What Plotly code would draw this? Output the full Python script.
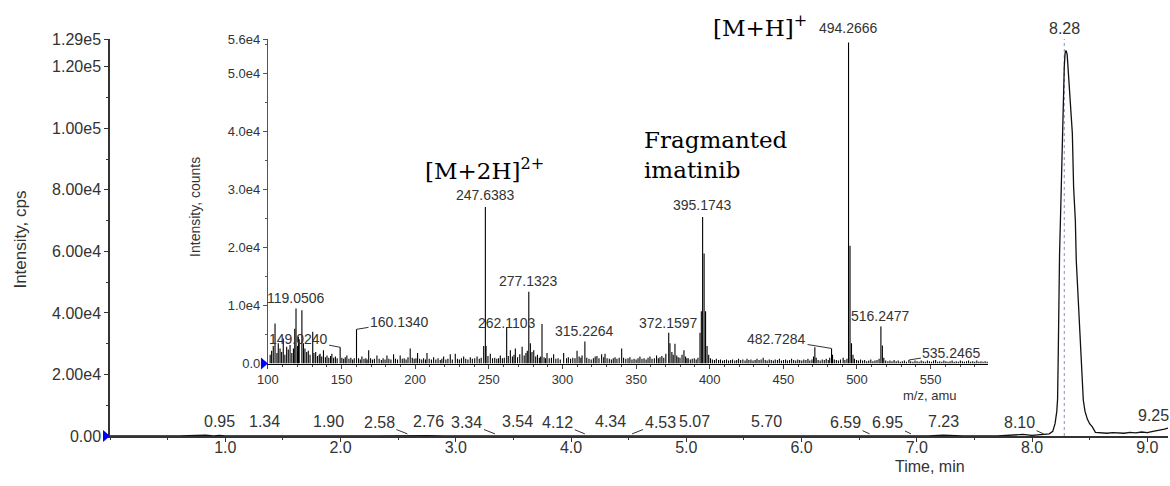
import plotly.graph_objects as go

# ---------------- TIC chromatogram (time in min, intensity in cps) ----------------
rt_min = [0.00, 0.30, 0.60, 0.83, 0.90, 0.95, 1.00, 1.20, 1.34, 1.40, 1.70, 1.90, 2.00,
          2.30, 2.58, 2.65, 2.76, 2.90, 3.20, 3.34, 3.45, 3.54, 3.70, 4.00, 4.12, 4.20,
          4.34, 4.45, 4.53, 4.70, 5.07, 5.20, 5.50, 5.70, 5.90, 6.30, 6.59, 6.75, 6.95,
          7.10, 7.23, 7.40, 7.70, 7.83, 7.92, 8.00, 8.05, 8.10, 8.15, 8.18, 8.20, 8.215,
          8.222, 8.228, 8.233, 8.239, 8.25, 8.259, 8.271, 8.28, 8.287, 8.295, 8.305, 8.32,
          8.332, 8.35, 8.361, 8.376, 8.384, 8.40, 8.416, 8.43, 8.445, 8.46, 8.48, 8.50,
          8.525, 8.55, 8.60, 8.65, 8.70, 8.75, 8.80, 8.85, 8.90, 8.95, 9.00, 9.05, 9.10,
          9.15, 9.18]
tic_cps = [0, 0, 0, 300, 0, 200, 0, 0, 150, 0, 0, 150, 0,
           0, 150, 0, 150, 0, 0, 150, 0, 150, 0, 0, 150, 0,
           150, 0, 150, 0, 150, 0, 0, 150, 0, 0, 150, 0, 150,
           0, 300, 0, 0, 400, 500, 200, 400, 600, 700, 1500, 4000, 8000,
           12000, 27000, 43000, 59000, 75000, 92000, 108000, 120000, 124300, 125300, 124000, 115500,
           108000, 98400, 80800, 70100, 57100, 45100, 34400, 24700, 11700, 8000, 5500, 4000,
           2900, 1200, 1000, 900, 1100, 1000, 900, 1200, 1000, 1300, 1100, 1500, 1800,
           2200, 2600]

# retention-time labels on the chromatogram
rt_label_times = [0.95, 1.34, 1.90, 2.58, 2.76, 3.34, 3.54, 4.12, 4.34, 4.53, 5.07,
                  5.70, 6.59, 6.95, 7.23, 8.10, 9.25]
apex_time = 8.28

# ---------------- TOF-MS spectrum (m/z, counts) ----------------
labelled_mz = [119.0506, 149.0240, 160.1340, 247.6383, 262.1103, 277.1323, 315.2264,
               372.1597, 395.1743, 482.7284, 494.2666, 516.2477, 535.2465]
labelled_counts = [9500, 2800, 5900, 27000, 6300, 12400, 3800,
                   5300, 25300, 2600, 55400, 6400, 600]

other_mz = [104.8, 107.0, 108.2, 110.4, 112.7, 115.0, 118.2, 120.7, 123.05, 130.4,
            286.1, 396.18, 397.18, 495.27]
other_counts = [6900, 3500, 2600, 4300, 2900, 3200, 6000, 4600, 9200, 5500,
                6800, 19000, 9000, 20300]

noise_mz = [101.5, 102.5, 103.6, 106.1, 109.3, 111.5, 113.8, 116.2, 117.3, 120.1, 121.2,
            124.1, 125.1, 126.3, 127.4, 128.6, 131.2, 132.4, 133.6, 134.8, 135.4, 136.5,
            137.7, 139.0, 140.1, 141.3, 142.5, 143.4, 144.6, 145.8, 147.0, 150.2, 151.4,
            152.5, 153.6, 155.0, 156.3, 157.5, 158.6, 161.5, 162.7, 163.8, 165.2, 166.5,
            167.3, 168.4, 169.7, 171.0, 172.3, 174.0, 175.5, 177.0, 178.2, 179.5, 180.8,
            182.1, 183.5, 185.3, 186.6, 188.0, 189.8, 191.2, 192.5, 193.8, 195.1, 196.6,
            198.0, 199.3, 200.5, 201.6, 203.0, 204.4, 205.7, 207.0, 208.0, 209.5, 211.0,
            212.5, 214.0, 215.5, 217.0, 218.1, 219.3, 220.8, 222.2, 223.8, 225.2, 227.2,
            228.7, 230.0, 231.4, 232.9, 234.3, 235.8, 237.4, 238.8, 240.4, 242.0, 243.5,
            244.8, 246.5, 248.1, 249.4, 251.0, 252.5, 254.0, 255.4, 256.6, 257.8, 259.2,
            260.5, 263.2, 264.6, 266.0, 267.1, 268.0, 269.5, 271.0, 272.6, 274.0, 275.2,
            276.1, 278.2, 279.3, 280.5, 281.8, 283.0, 284.3, 285.2, 287.5, 288.5, 289.5,
            291.0, 292.5, 294.0, 295.5, 297.0, 298.5, 300.8, 302.8, 304.0, 305.5, 307.0,
            308.5, 309.9, 311.3, 312.5, 313.3, 316.5, 318.0, 319.5, 321.0, 322.2, 323.4,
            324.8, 326.6, 328.0, 328.9, 330.3, 331.8, 333.2, 334.5, 335.7, 337.0, 338.5,
            340.2, 341.5, 343.0, 344.5, 345.8, 347.2, 348.6, 350.0, 351.3, 352.6, 354.0,
            355.4, 356.8, 358.1, 359.4, 360.8, 362.4, 363.9, 365.1, 366.2, 367.5, 368.8,
            370.2, 373.0, 374.3, 375.2, 376.4, 377.6, 378.6, 379.8, 381.2, 382.5, 383.6,
            384.5, 385.4, 386.8, 388.1, 389.5, 390.8, 392.0, 393.4, 394.3, 398.2, 399.3,
            400.5, 401.8, 403.2, 404.5, 406.0, 407.3, 408.7, 410.0, 411.4, 412.8, 414.2,
            415.5, 417.0, 418.3, 419.6, 421.0, 422.5, 424.0, 425.3, 426.6, 428.0, 429.4,
            430.8, 432.1, 433.5, 434.9, 436.3, 437.7, 439.0, 440.4, 441.8, 443.2, 444.5,
            446.0, 447.3, 448.7, 450.1, 451.5, 452.8, 454.2, 455.6, 457.0, 458.4, 459.8,
            461.1, 462.5, 463.9, 465.3, 466.7, 468.0, 469.4, 470.5, 471.4, 472.3, 473.6,
            475.0, 476.4, 477.8, 479.1, 480.5, 481.5, 483.4, 484.6, 486.0, 487.4, 488.8,
            490.6, 491.8, 493.2, 496.27, 497.3, 498.3, 499.7, 501.0, 502.4, 503.8, 505.2,
            506.6, 508.0, 509.4, 510.8, 512.2, 513.6, 515.0, 517.25, 518.2, 519.5, 521.0,
            522.4, 523.8, 525.2, 526.6, 528.0, 529.4, 530.8, 532.2, 533.6, 536.5, 538.0,
            539.4, 540.8, 542.2, 543.6, 545.0, 546.4, 547.8, 549.2, 550.6, 552.0, 553.4,
            554.8, 556.2, 557.6, 559.0, 560.4, 561.8, 563.2, 564.6, 566.0, 567.4, 568.8,
            570.2, 571.6, 573.0, 574.4, 575.8, 577.2, 578.6, 580.0, 581.4, 582.8, 584.2,
            585.6, 587.0, 588.4]
noise_counts = [1500, 2200, 3000, 1800, 2000, 1500, 2400, 1800, 2600, 3000, 4200,
                3500, 2600, 2000, 2200, 1500, 1800, 2000, 1300, 1500, 1700, 1200,
                2300, 1100, 1400, 1000, 1300, 1700, 1000, 1200, 900, 1000, 800,
                1100, 1400, 800, 1000, 700, 900, 900, 700, 1200, 800, 900,
                700, 2300, 900, 700, 800, 1400, 800, 600, 900, 700, 1400,
                800, 700, 1600, 800, 700, 1400, 800, 900, 700, 1100, 2600,
                1000, 800, 900, 1800, 800, 700, 900, 700, 1800, 800, 700,
                1100, 700, 900, 600, 800, 1200, 700, 800, 1600, 700, 1700,
                800, 700, 900, 1200, 800, 700, 1100, 800, 900, 1200, 800,
                1000, 3000, 3000, 1300, 1700, 900, 1000, 800, 900, 1400, 900,
                1000, 1300, 2300, 1200, 1500, 2600, 1100, 1600, 2900, 1400, 1800,
                2200, 3500, 2000, 2300, 1200, 1500, 1000, 1200, 1100, 900, 1800,
                900, 1000, 1600, 800, 900, 700, 1800, 900, 1100, 800, 1000,
                900, 2200, 1200, 1000, 1400, 1000, 800, 700, 900, 1200, 1300,
                900, 1600, 1100, 1700, 900, 800, 700, 900, 1100, 800, 1000,
                2600, 1000, 800, 900, 1100, 700, 800, 700, 900, 1200, 800,
                900, 700, 1000, 1200, 800, 900, 1400, 900, 1100, 1300, 1000,
                1700, 3500, 2000, 1500, 3400, 1400, 1100, 1000, 1500, 2300, 1200,
                900, 900, 700, 800, 900, 700, 1000, 5300, 9000, 3000, 1500,
                900, 700, 600, 800, 600, 700, 500, 600, 700, 500, 600,
                700, 500, 600, 800, 600, 700, 500, 800, 600, 700, 500,
                600, 800, 600, 700, 1000, 600, 500, 700, 600, 500, 700,
                600, 800, 500, 600, 700, 500, 600, 800, 600, 500, 700,
                600, 500, 700, 600, 800, 500, 700, 1200, 2800, 1000, 600,
                500, 700, 600, 800, 600, 1000, 1500, 700, 600, 500, 700,
                1000, 600, 800, 3500, 1500, 800, 600, 500, 700, 500, 600,
                400, 500, 700, 400, 500, 600, 800, 3100, 1000, 500, 400,
                500, 400, 600, 400, 500, 300, 400, 500, 300, 400, 300,
                500, 400, 300, 500, 400, 300, 500, 400, 300, 500, 600,
                300, 400, 300, 500, 400, 300, 400, 500, 300, 400, 300,
                500, 400, 300, 400, 500, 300, 400, 300, 500, 300, 400,
                300, 400, 300]

# ---------------- geometry / styles ----------------
INK = "#333333"
SANS = "Liberation Sans, Arial, sans-serif"
SERIF = "DejaVu Serif, serif"
INSET_X = [0.1493, 0.8299]
INSET_Y = [0.1826, 1.0]

fig = go.Figure()

fig.add_trace(go.Scatter(
    x=rt_min, y=tic_cps, mode="lines", xaxis="x", yaxis="y",
    line=dict(color="#111111", width=1.3), hoverinfo="skip"))

# stick spectrum: one vertical segment per m/z value
sticks = sorted(zip(labelled_mz + other_mz + noise_mz,
                    labelled_counts + other_counts + noise_counts))
seg_x, seg_y = [], []
for mz, cnt in sticks:
    seg_x += [mz, mz, None]
    seg_y += [0, cnt, None]
fig.add_trace(go.Scatter(
    x=seg_x, y=seg_y, mode="lines", xaxis="x2", yaxis="y2",
    line=dict(color="black", width=1.1), hoverinfo="skip"))

annotations = []
rt_font = dict(size=16, color=INK, family=SANS)

# chromatogram labels: (dx in px from the peak) for the ones with a leader line
rt_label_place = {2.58: -28, 3.34: -28, 4.12: -27, 4.53: 28, 6.59: -24,
                  6.95: -23, 8.10: -24}
for t in rt_label_times:
    txt = f"{t:.2f}"
    if t in rt_label_place:
        annotations.append(dict(
            x=t, y=700, xref="x", yref="y", text=txt, showarrow=True,
            arrowhead=0, arrowwidth=1, arrowcolor=INK, standoff=0,
            ax=rt_label_place[t], ay=-11, font=rt_font))
    elif t == 9.25:
        # peak lies just past the right edge; label sits at the border
        annotations.append(dict(
            x=0.986, y=0, xref="paper", yref="y", text=txt, showarrow=False,
            xanchor="center", yanchor="bottom", yshift=10, font=rt_font))
    else:
        annotations.append(dict(
            x=t, y=0, xref="x", yref="y", text=txt, showarrow=False,
            xanchor="center", yanchor="bottom", yshift=4, font=rt_font))

annotations.append(dict(
    x=apex_time, y=1, xref="x", yref="paper", text=f"{apex_time:.2f}",
    showarrow=False, xanchor="center", yanchor="bottom", yshift=0, font=rt_font))

# spectrum peak labels: leader offsets (px) or vertical shift
mz_font = dict(size=14, color=INK, family=SANS)
mz_leader = {149.0240: (-42, -8), 160.1340: (43, -7), 482.7284: (-55, -9),
             535.2465: (43, -7)}
mz_shift = {119.0506: 0, 247.6383: 2, 262.1103: -6, 277.1323: 1, 315.2264: 0,
            372.1597: 0, 395.1743: 2, 494.2666: 4, 516.2477: 0}
for mz, cnt in zip(labelled_mz, labelled_counts):
    txt = f"{mz:.4f}"
    if mz in mz_leader:
        ax, ay = mz_leader[mz]
        annotations.append(dict(
            x=mz, y=cnt, xref="x2", yref="y2", text=txt, showarrow=True,
            arrowhead=0, arrowwidth=1, arrowcolor=INK, standoff=0, ax=ax, ay=ay,
            font=mz_font))
    else:
        annotations.append(dict(
            x=mz, y=cnt, xref="x2", yref="y2", text=txt, showarrow=False,
            xanchor="center", yanchor="bottom", yshift=mz_shift[mz], font=mz_font))

# ion annotations
ion_font = dict(size=23, color="black", family=SERIF)
annotations += [
    dict(x=0.6144, y=1.032, xref="paper", yref="paper", text="[M+H]<sup>+</sup>",
         xanchor="center", yanchor="middle", showarrow=False, font=ion_font),
    dict(x=0.3535, y=0.672, xref="paper", yref="paper", text="[M+2H]<sup>2+</sup>",
         xanchor="center", yanchor="middle", showarrow=False, font=ion_font),
    dict(x=0.5028, y=0.708, xref="paper", yref="paper", xanchor="left",
         yanchor="middle", align="left", text="Fragmanted<br>imatinib",
         showarrow=False, font=ion_font),
]

# axis titles
annotations += [
    dict(x=0.775, y=-0.0756, xref="paper", yref="paper", text="Time, min",
         xanchor="center", yanchor="middle", showarrow=False,
         font=dict(size=16, color=INK, family=SANS)),
    dict(x=-0.085, y=0.495, xref="paper", yref="paper", text="Intensity, cps",
         xanchor="center", yanchor="middle", textangle=-90, showarrow=False,
         font=dict(size=17, color=INK, family=SANS)),
    dict(x=0.775, y=0.1008, xref="paper", yref="paper", text="m/z, amu",
         xanchor="center", yanchor="middle", showarrow=False,
         font=dict(size=13, color=INK, family=SANS)),
    dict(x=0.0803, y=0.577, xref="paper", yref="paper", text="Intensity, counts",
         xanchor="center", yanchor="middle", textangle=-90, showarrow=False,
         font=dict(size=14, color=INK, family=SANS)),
]

shapes = [
    # dotted apex marker
    dict(type="line", xref="x", yref="y", x0=apex_time, x1=apex_time, y0=0, y1=129000,
         line=dict(color="#8a8ac8", width=1, dash="dot"), layer="below"),
    # blue origin markers
    dict(type="path", xref="paper", yref="paper", xsizemode="pixel", ysizemode="pixel",
         xanchor=0, yanchor=0, path="M -7,-6 L 0,0 L -7,6 Z",
         fillcolor="#0000ff", line=dict(color="#0000ff", width=0)),
    dict(type="path", xref="paper", yref="paper", xsizemode="pixel", ysizemode="pixel",
         xanchor=INSET_X[0], yanchor=INSET_Y[0], path="M -7,-6 L 0,0 L -7,6 Z",
         fillcolor="#0000ff", line=dict(color="#0000ff", width=0)),
]

main_y_ticks = [0, 20000, 40000, 60000, 80000, 100000, 120000, 129000]
main_y_text = ["0.00", "2.00e4", "4.00e4", "6.00e4", "8.00e4", "1.00e5", "1.20e5", "1.29e5"]
main_x_ticks = [1, 2, 3, 4, 5, 6, 7, 8, 9]
inset_y_ticks = [0, 10000, 20000, 30000, 40000, 50000, 56000]
inset_y_text = ["0.0", "1.0e4", "2.0e4", "3.0e4", "4.0e4", "5.0e4", "5.6e4"]
inset_x_ticks = [100, 150, 200, 250, 300, 350, 400, 450, 500, 550]

fig.update_layout(
    width=1170, height=486, margin=dict(l=110, r=2, t=39, b=50),
    paper_bgcolor="white", plot_bgcolor="white", showlegend=False,
    font=dict(family=SANS, color=INK, size=16),
    annotations=annotations, shapes=shapes,
    xaxis=dict(range=[0, 9.18], tickvals=main_x_ticks,
               ticktext=[f"{v:.1f}" for v in main_x_ticks],
               ticks="outside", ticklen=4, tickwidth=1, tickcolor=INK,
               ticklabelstandoff=-8,
               showline=True, linecolor=INK, linewidth=1.5, showgrid=False,
               zeroline=False, tickfont=dict(size=16, color=INK),
               minor=dict(tick0=0, dtick=0.5, ticks="outside", ticklen=2, tickcolor=INK)),
    yaxis=dict(range=[0, 129000], tickvals=main_y_ticks, ticktext=main_y_text,
               ticks="outside", ticklen=4, tickwidth=1, tickcolor=INK,
               showline=True, linecolor=INK, linewidth=1.5, showgrid=False,
               zeroline=False, tickfont=dict(size=16, color=INK),
               minor=dict(tick0=0, dtick=10000, ticks="outside", ticklen=2, tickcolor=INK)),
    xaxis2=dict(domain=INSET_X, anchor="y2", range=[100, 589], tickvals=inset_x_ticks,
                ticks="outside", ticklen=4, tickwidth=1, tickcolor="#444",
                showline=True, linecolor="black", linewidth=1, showgrid=False,
                zeroline=False, tickfont=dict(size=13, color=INK),
                minor=dict(tick0=100, dtick=10, ticks="outside", ticklen=2, tickcolor="#444")),
    yaxis2=dict(domain=INSET_Y, anchor="x2", range=[0, 56000], tickvals=inset_y_ticks,
                ticktext=inset_y_text, ticks="outside", ticklen=4, tickwidth=1,
                tickcolor="#555", showline=True, linecolor="#555", linewidth=1.2,
                showgrid=False, zeroline=False, tickfont=dict(size=13, color=INK),
                minor=dict(tick0=0, dtick=5000, ticks="outside", ticklen=2, tickcolor="#555")),
)

fig.write_html("out.html")
